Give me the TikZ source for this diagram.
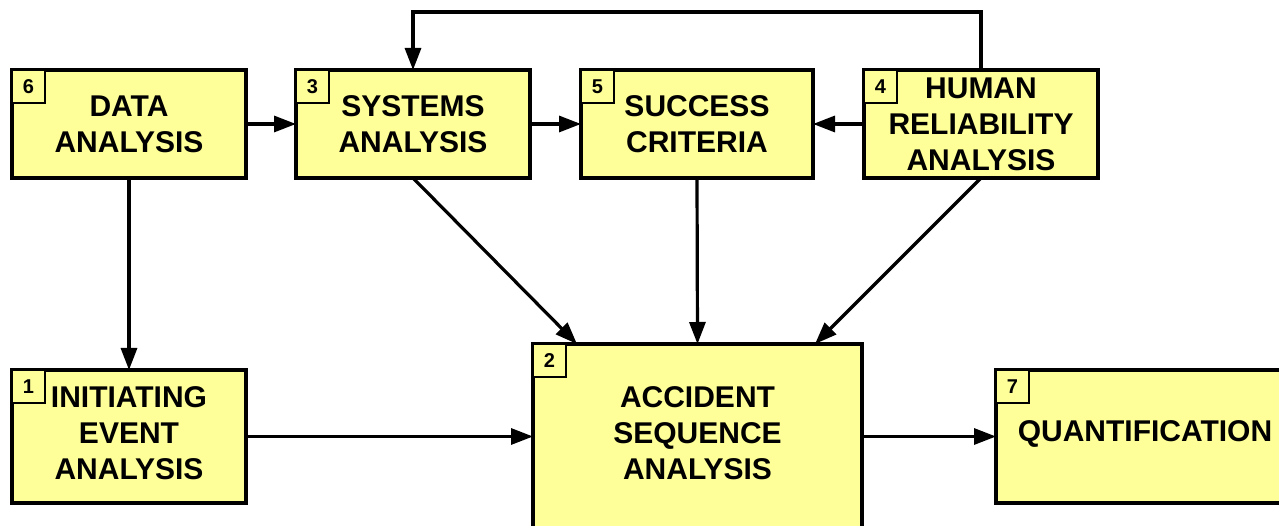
\documentclass[tikz,border=0pt]{standalone}
\usepackage{fontspec}
\setmainfont{Liberation Sans}
\usetikzlibrary{arrows.meta}
\definecolor{boxfill}{HTML}{FFFF99}
\tikzset{
  block/.style={draw=black, line width=3.2pt, fill=boxfill, rectangle,
    outer sep=0pt, inner sep=0pt, align=center,
    font=\fontsize{30}{36}\selectfont\bfseries},
  numbox/.style={draw=black, line width=2pt, fill=boxfill, rectangle,
    outer sep=0pt, inner sep=0pt, minimum width=33pt, minimum height=33pt,
    anchor=north west, font=\fontsize{20}{20}\selectfont\bfseries},
  arr/.style={line width=3.2pt, -{Triangle[length=22pt,width=16pt]}},
  lbl/.style={align=center, inner sep=0pt,
    font=\fontsize{30}{36}\selectfont\bfseries}
}
\begin{document}
\begin{tikzpicture}[x=1pt, y=-1pt]
  \useasboundingbox (0,0) rectangle (1279,526);
  \fill[white] (0,0) rectangle (1279,526);
  \clip (0,0) rectangle (1279,526);

  % upper row
  \node[block, minimum width=234pt, minimum height=108pt] (n6) at (129,124) {DATA\\ANALYSIS};
  \node[block, minimum width=234pt, minimum height=108pt] (n3) at (413,124) {SYSTEMS\\ANALYSIS};
  \node[block, minimum width=232pt, minimum height=108pt] (n5) at (697,124) {SUCCESS\\CRITERIA};
  \node[block, minimum width=234pt, minimum height=108pt] (n4) at (981,124) {HUMAN\\RELIABILITY\\ANALYSIS};

  % lower row
  \node[block, minimum width=234pt, minimum height=133pt] (n1) at (129,436.5) {};
  \node[lbl] (n1t) at ([yshift=3pt]n1.center) {INITIATING\\EVENT\\ANALYSIS};
  \node[block, minimum width=329pt, minimum height=220pt] (n2) at (697.5,454) {};
  \node[lbl] (n2t) at ([yshift=-89pt]n2.north) {ACCIDENT\\SEQUENCE\\ANALYSIS};
  \node[block, minimum width=298pt, minimum height=133pt] (n7) at (1145,436.5) {};
  \node[lbl] (n7t) at ([yshift=3pt]n7.center) {QUANTIFICATION};

  % step numbers
  \node[numbox] (k6) at (n6.north west) {6};
  \node[numbox] (k3) at (n3.north west) {3};
  \node[numbox] (k5) at (n5.north west) {5};
  \node[numbox] (k4) at (n4.north west) {4};
  \node[numbox] (k1) at (n1.north west) {1};
  \node[numbox] (k2) at (n2.north west) {2};
  \node[numbox] (k7) at (n7.north west) {7};

  % connectors
  \coordinate (top) at (0,12);
  \draw[arr] (n6.east) -- (n3.west);
  \draw[arr] (n3.east) -- (n5.west);
  \draw[arr] (n4.west) -- (n5.east);
  \draw[arr] (n4.north) -- (n4.north |- top) -| (n3.north);
  \draw[arr] (n6.south) -- (n1.north);
  \draw[arr] (n3.south) -- ([xshift=44pt]n2.north west);
  \draw[arr] (n5.south) -- (n2.north);
  \draw[arr] (n4.south) -- ([xshift=-47pt]n2.north east);
  \draw[arr] (n1.east) -- (n1.east -| n2.west);
  \draw[arr] (n2.east |- n7.west) -- (n7.west);
\end{tikzpicture}
\end{document}
